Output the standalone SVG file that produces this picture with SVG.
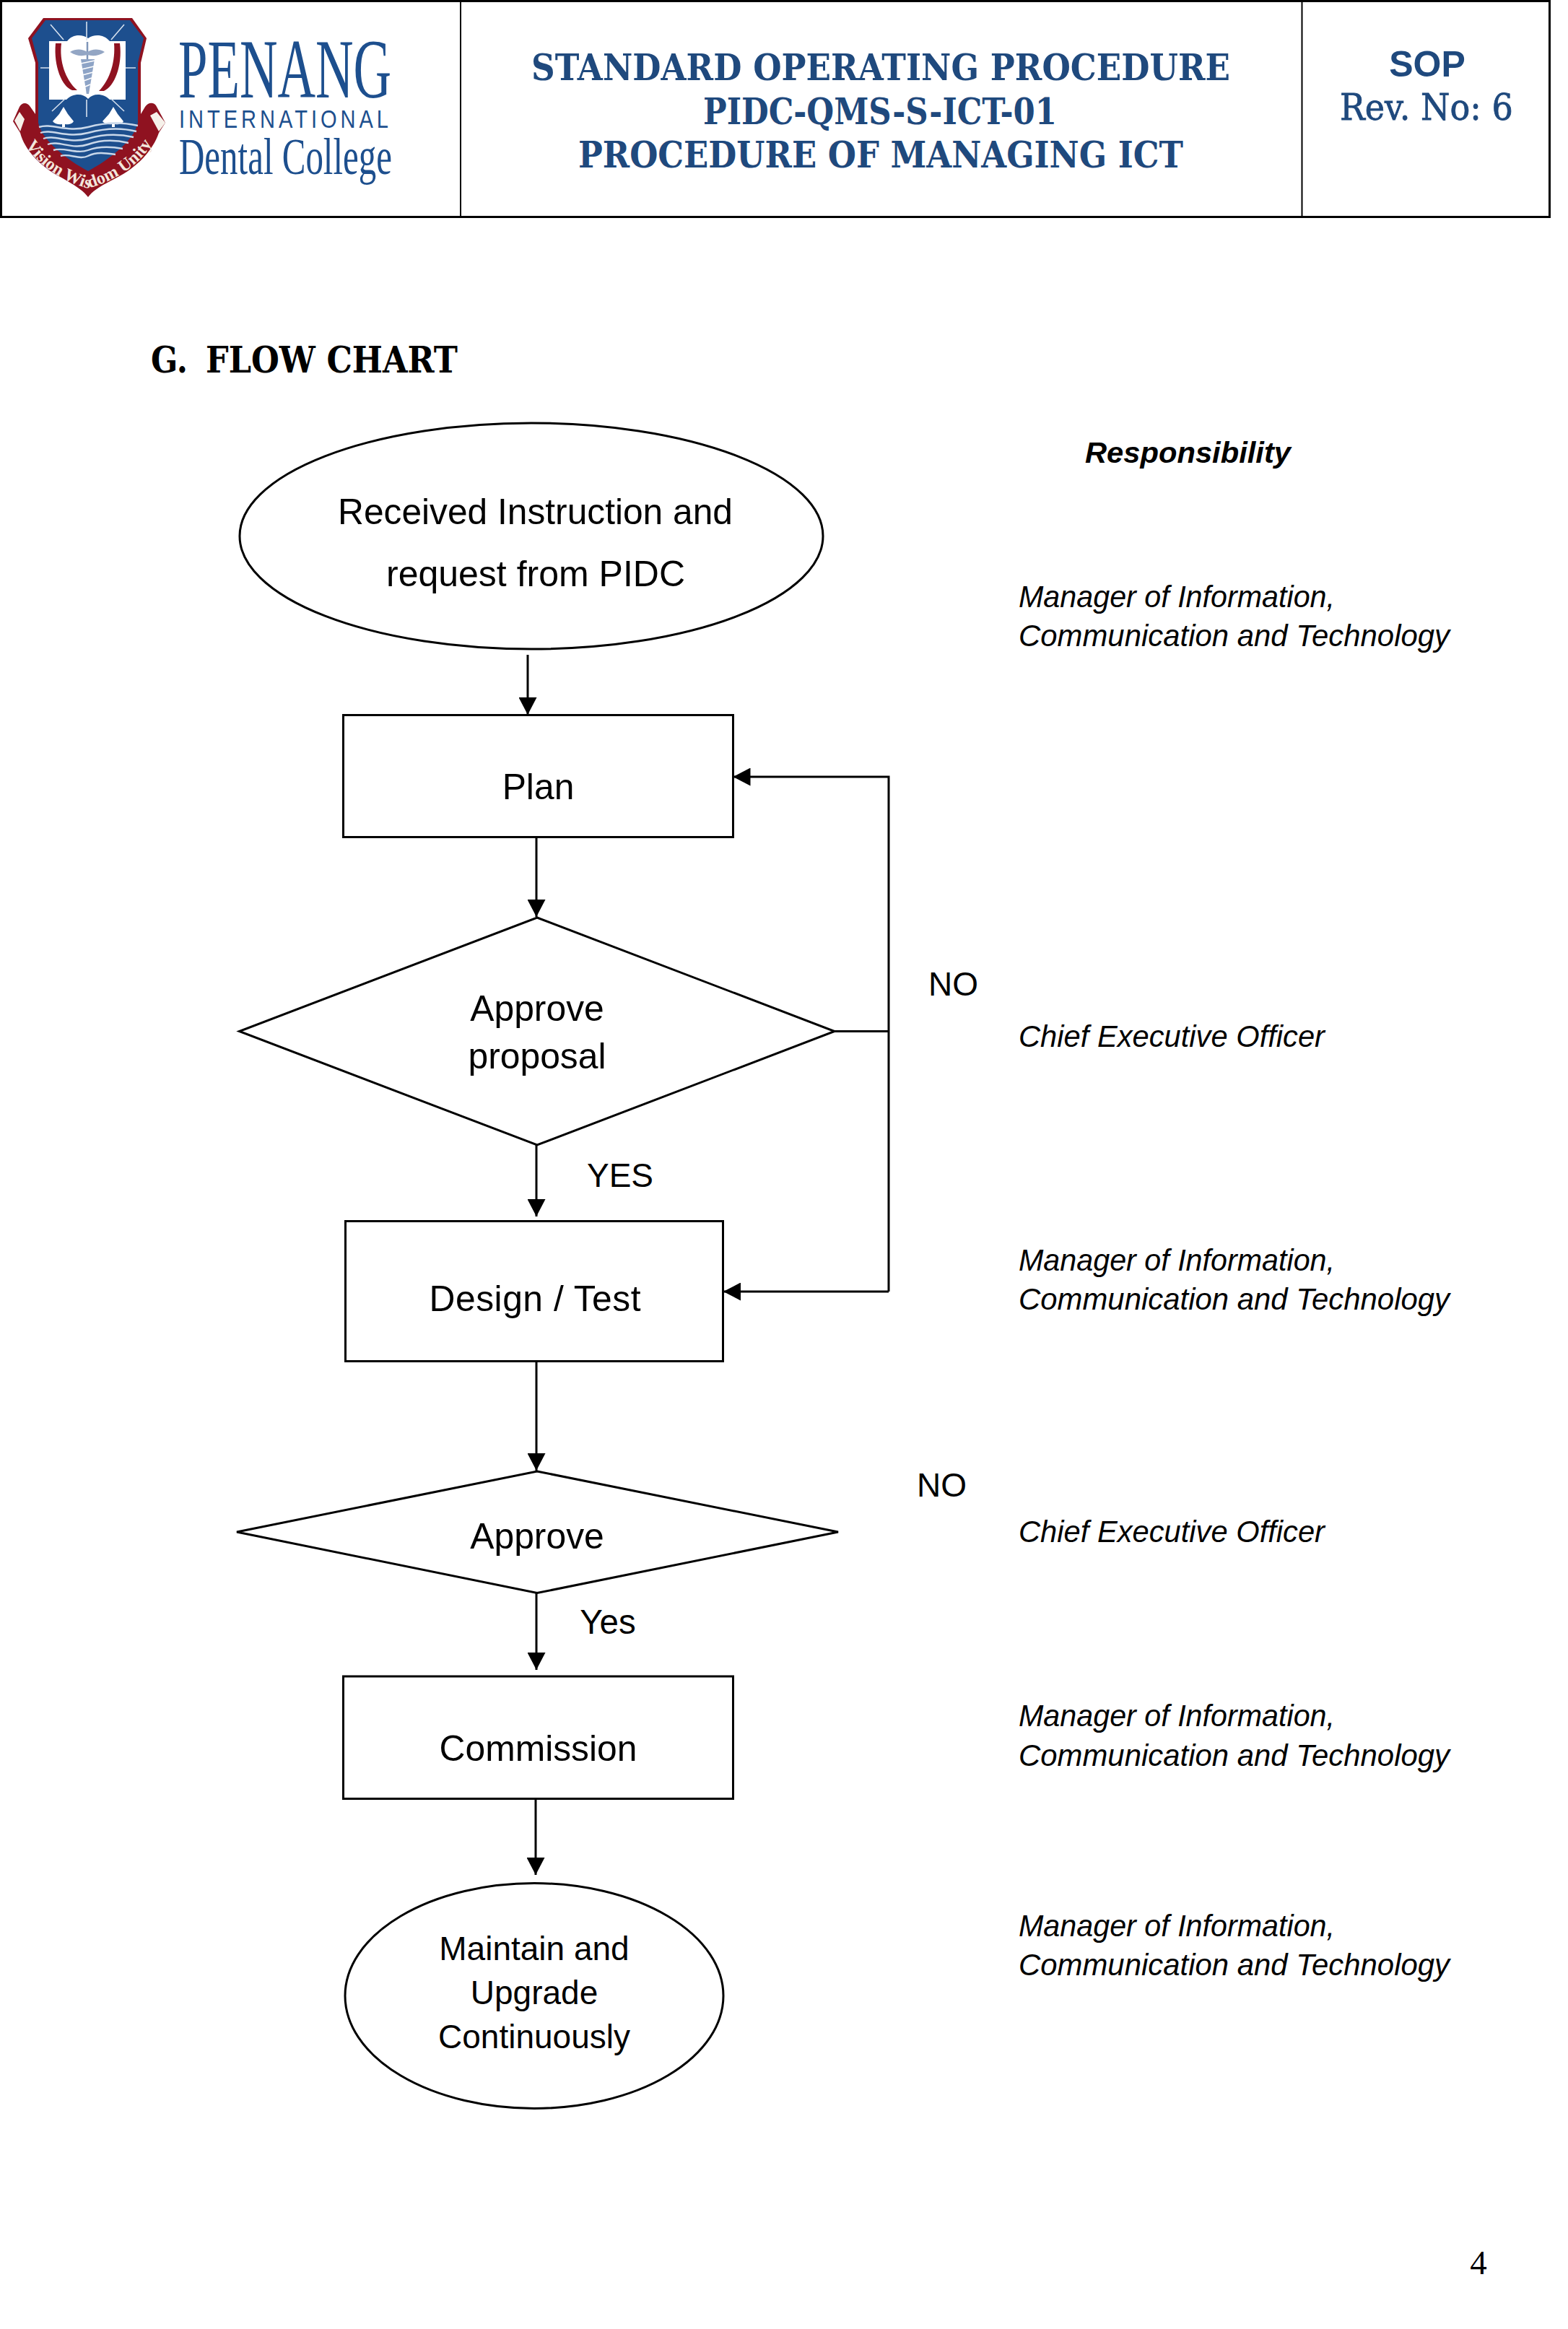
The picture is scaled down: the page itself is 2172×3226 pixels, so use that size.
<svg xmlns="http://www.w3.org/2000/svg" width="2172" height="3226" viewBox="0 0 2172 3226">
<style>
.ln{fill:none;stroke:#000;stroke-width:3}
.nd{fill:#fff;stroke:#000;stroke-width:3}
.t{font-family:"Liberation Sans",Arial,sans-serif;font-size:49.8px;fill:#000;text-anchor:middle}
.lb{font-size:46px}
.r{font-family:"Liberation Sans",Arial,sans-serif;font-size:42px;font-style:italic;fill:#000}
.h{font-family:"DejaVu Serif",serif;font-weight:700;font-size:51px;fill:#1f497d;text-anchor:middle}
.blue{fill:#1d4f8e}
.red{fill:#8f1220}
.w{fill:none;stroke:#c9d8ea;stroke-width:2.4}
</style>
<defs>
<marker id="a" markerUnits="userSpaceOnUse" markerWidth="25" markerHeight="25" refX="24" refY="12.5" orient="auto"><path d="M0 0L24 12.5L0 25Z" fill="#000"/></marker>
<path id="rib" d="M30 190C45 226 85 250 122 261C160 250 200 226 216 188"/>
</defs>
<rect width="2172" height="3226" fill="#fff"/>
<g id="header">
<path d="M1.500 1.500H2146.500V300.500H1.500Z" fill="none" stroke="#000" stroke-width="3"/>
<path d="M638 1V300M1803.500 1V300" fill="none" stroke="#000" stroke-width="2"/>
</g>
<g id="logo">
<path class="red" d="M60 25H183L203 53L195 87V158L201 148C205 142 212 141 216 146L229 170L220 184C212 208 190 232 160 247C145 255 130 262 122 273C114 262 100 255 87 247C57 232 34 208 28 184L18 168L27 148C31 141 38 142 42 148L49 158V87L39 53Z"/>
<path class="blue" d="M63 28H180L199 53L191 87V170C186 195 150 222 122 237C94 222 58 195 53 170V87L44 53Z"/>
<path d="M68 57H93C100 47 114 47 122 53C130 47 144 47 152 57H174V138H152C144 130 130 128 122 137C114 128 100 130 92 138H68Z" fill="#fff"/>
<path d="M120 30V56M70 34L88 55M172 34L154 55M56 94H68M174 94H188M120 138V162M72 154L90 137M172 154L154 137" fill="none" stroke="#d5e0ee" stroke-width="1.600"/>
<path class="red" d="M77 60H85C82 84 90 110 107 125H100C86 120 74 92 77 60ZM166 60H158C160 84 153 110 137 126H144C158 120 170 92 166 60Z"/>
<path d="M121 58V130" fill="none" stroke="#7f96b8" stroke-width="2.500"/>
<path d="M97 72C106 67 114 68 121 72C128 68 136 67 145 72C136 78 128 78 121 76C114 78 106 78 97 72Z" fill="#93a6c4"/>
<path d="M112 82H131L123 130H120Z" fill="#8ea4c6"/>
<path d="M112 88L131 84M113 96L130 92M114 104L129 100M116 112L127 108M118 120L125 117" fill="none" stroke="#fff" stroke-width="1.600"/>
<path d="M88 148L94 158L102 168C100 172 94 173 90 172V176H86V172C82 173 76 172 73 168L82 158Z" fill="#fff"/>
<path d="M157 148L163 158L171 168C169 172 163 173 159 172V176H155V172C151 173 145 172 142 168L151 158Z" fill="#fff"/>
<path class="w" d="M54 176C72 170 92 184 122 176S172 170 191 174M56 184C72 178 92 192 122 184S172 178 189 182M60 192C76 186 96 200 122 192S168 186 185 190M66 200C82 194 100 208 122 200S162 194 178 198M74 208C88 203 106 214 122 208S154 203 170 206M84 216C96 212 110 222 122 216S146 212 160 214"/>
<path d="M20 167L27 155L34 165L28 182ZM208 160L217 155L229 170L220 182Z" fill="#f6f1ea"/>
<text font-family="'Liberation Serif',serif" font-size="24" font-weight="700" fill="#f3e6dc"><textPath href="#rib" startOffset="50%" text-anchor="middle">Vision Wisdom Unity</textPath></text>
<text x="247" y="135" font-family="'Liberation Serif',serif" font-size="117" fill="#1d4f8e" textLength="295" lengthAdjust="spacingAndGlyphs">PENANG</text>
<text x="248" y="177" font-family="'Liberation Sans',sans-serif" font-size="35" fill="#1d4f8e" letter-spacing="6" textLength="295" lengthAdjust="spacingAndGlyphs">INTERNATIONAL</text>
<text x="248" y="241" font-family="'Liberation Serif',serif" font-size="72" fill="#1d4f8e" textLength="295" lengthAdjust="spacingAndGlyphs">Dental College</text>
</g>
<g id="title">
<text class="h" x="1220" y="111" textLength="968" lengthAdjust="spacingAndGlyphs">STANDARD OPERATING PROCEDURE</text>
<text class="h" x="1219" y="172" textLength="490" lengthAdjust="spacingAndGlyphs">PIDC-QMS-S-ICT-01</text>
<text class="h" x="1220" y="232" textLength="838" lengthAdjust="spacingAndGlyphs">PROCEDURE OF MANAGING ICT</text>
<text x="1977" y="106" font-family="'Liberation Sans',sans-serif" font-weight="700" font-size="50" fill="#1f497d" text-anchor="middle">SOP</text>
<text x="1976" y="166" font-family="'DejaVu Serif',serif" font-size="50" fill="#1f497d" stroke="#1f497d" stroke-width="0.800" text-anchor="middle" textLength="240" lengthAdjust="spacingAndGlyphs">Rev. No: 6</text>
</g>
<g id="heading" font-family="'DejaVu Serif',serif" font-weight="700" font-size="51" fill="#000">
<text x="209" y="516" textLength="51" lengthAdjust="spacingAndGlyphs">G.</text>
<text x="285" y="516" textLength="349" lengthAdjust="spacingAndGlyphs">FLOW CHART</text>
</g>
<g id="connectors" class="ln">
<path d="M731 907V990" marker-end="url(#a)"/>
<path d="M743 1159V1270" marker-end="url(#a)"/>
<path d="M743 1586V1685" marker-end="url(#a)"/>
<path d="M1156 1428.500H1231"/>
<path d="M1231 1789V1076H1015.500" marker-end="url(#a)"/>
<path d="M1231 1789H1002" marker-end="url(#a)"/>
<path d="M743 1885V2037" marker-end="url(#a)"/>
<path d="M743 2207V2313" marker-end="url(#a)"/>
<path d="M742 2491V2597" marker-end="url(#a)"/>
</g>
<g id="n-start"><ellipse class="nd" cx="736" cy="742.500" rx="404" ry="156.500"/><text class="t" x="741.500" y="726" textLength="547" lengthAdjust="spacingAndGlyphs">Received Instruction and</text><text class="t" x="742" y="812" textLength="414" lengthAdjust="spacingAndGlyphs">request from PIDC</text></g>
<g id="n-plan"><rect class="nd" x="475.500" y="990.500" width="540" height="169"/><text class="t" x="745.500" y="1107">Plan</text></g>
<g id="n-approve1"><path class="nd" d="M744 1271L1156 1428.500L744 1586L331.500 1428.500Z"/><text class="t" x="744" y="1414">Approve</text><text class="t" x="744" y="1479.500">proposal</text></g>
<g id="n-design"><rect class="nd" x="478.500" y="1691.500" width="523" height="194"/><text class="t" x="741" y="1815.500" textLength="293" lengthAdjust="spacing">Design / Test</text></g>
<g id="n-approve2"><path class="nd" d="M744 2038L1161 2122L744 2206.500L328 2122Z"/><text class="t" x="744" y="2144.500">Approve</text></g>
<g id="n-commission"><rect class="nd" x="475.500" y="2322" width="540" height="169.500"/><text class="t" x="745.500" y="2438.500">Commission</text></g>
<g id="n-maintain"><ellipse class="nd" cx="740" cy="2764.500" rx="262" ry="156"/><text class="t lb" x="740" y="2714.500">Maintain and</text><text class="t lb" x="740" y="2775.500">Upgrade</text><text class="t lb" x="740" y="2837">Continuously</text></g>
<g id="labels">
<text class="t lb" x="859" y="1644">YES</text>
<text class="t lb" x="1320.500" y="1379">NO</text>
<text class="t lb" x="1304.500" y="2072.500">NO</text>
<text class="t" style="font-size:47.5px" x="842" y="2263">Yes</text>
</g>
<g id="responsibility">
<text x="1503" y="641" font-family="'Liberation Sans',sans-serif" font-weight="700" font-style="italic" font-size="41.500" textLength="285" lengthAdjust="spacingAndGlyphs">Responsibility</text>
<text class="r" x="1411" y="841" textLength="438" lengthAdjust="spacingAndGlyphs">Manager of Information,</text><text class="r" x="1411" y="895" textLength="597" lengthAdjust="spacingAndGlyphs">Communication and Technology</text>
<text class="r" x="1411" y="1450" textLength="424" lengthAdjust="spacingAndGlyphs">Chief Executive Officer</text>
<text class="r" x="1411" y="1760" textLength="438" lengthAdjust="spacingAndGlyphs">Manager of Information,</text><text class="r" x="1411" y="1814" textLength="597" lengthAdjust="spacingAndGlyphs">Communication and Technology</text>
<text class="r" x="1411" y="2136" textLength="424" lengthAdjust="spacingAndGlyphs">Chief Executive Officer</text>
<text class="r" x="1411" y="2391" textLength="438" lengthAdjust="spacingAndGlyphs">Manager of Information,</text><text class="r" x="1411" y="2446" textLength="597" lengthAdjust="spacingAndGlyphs">Communication and Technology</text>
<text class="r" x="1411" y="2682" textLength="438" lengthAdjust="spacingAndGlyphs">Manager of Information,</text><text class="r" x="1411" y="2736" textLength="597" lengthAdjust="spacingAndGlyphs">Communication and Technology</text>
</g>
<text id="page" x="2048" y="3150" font-family="'Liberation Serif',serif" font-size="47" text-anchor="middle">4</text>
</svg>
